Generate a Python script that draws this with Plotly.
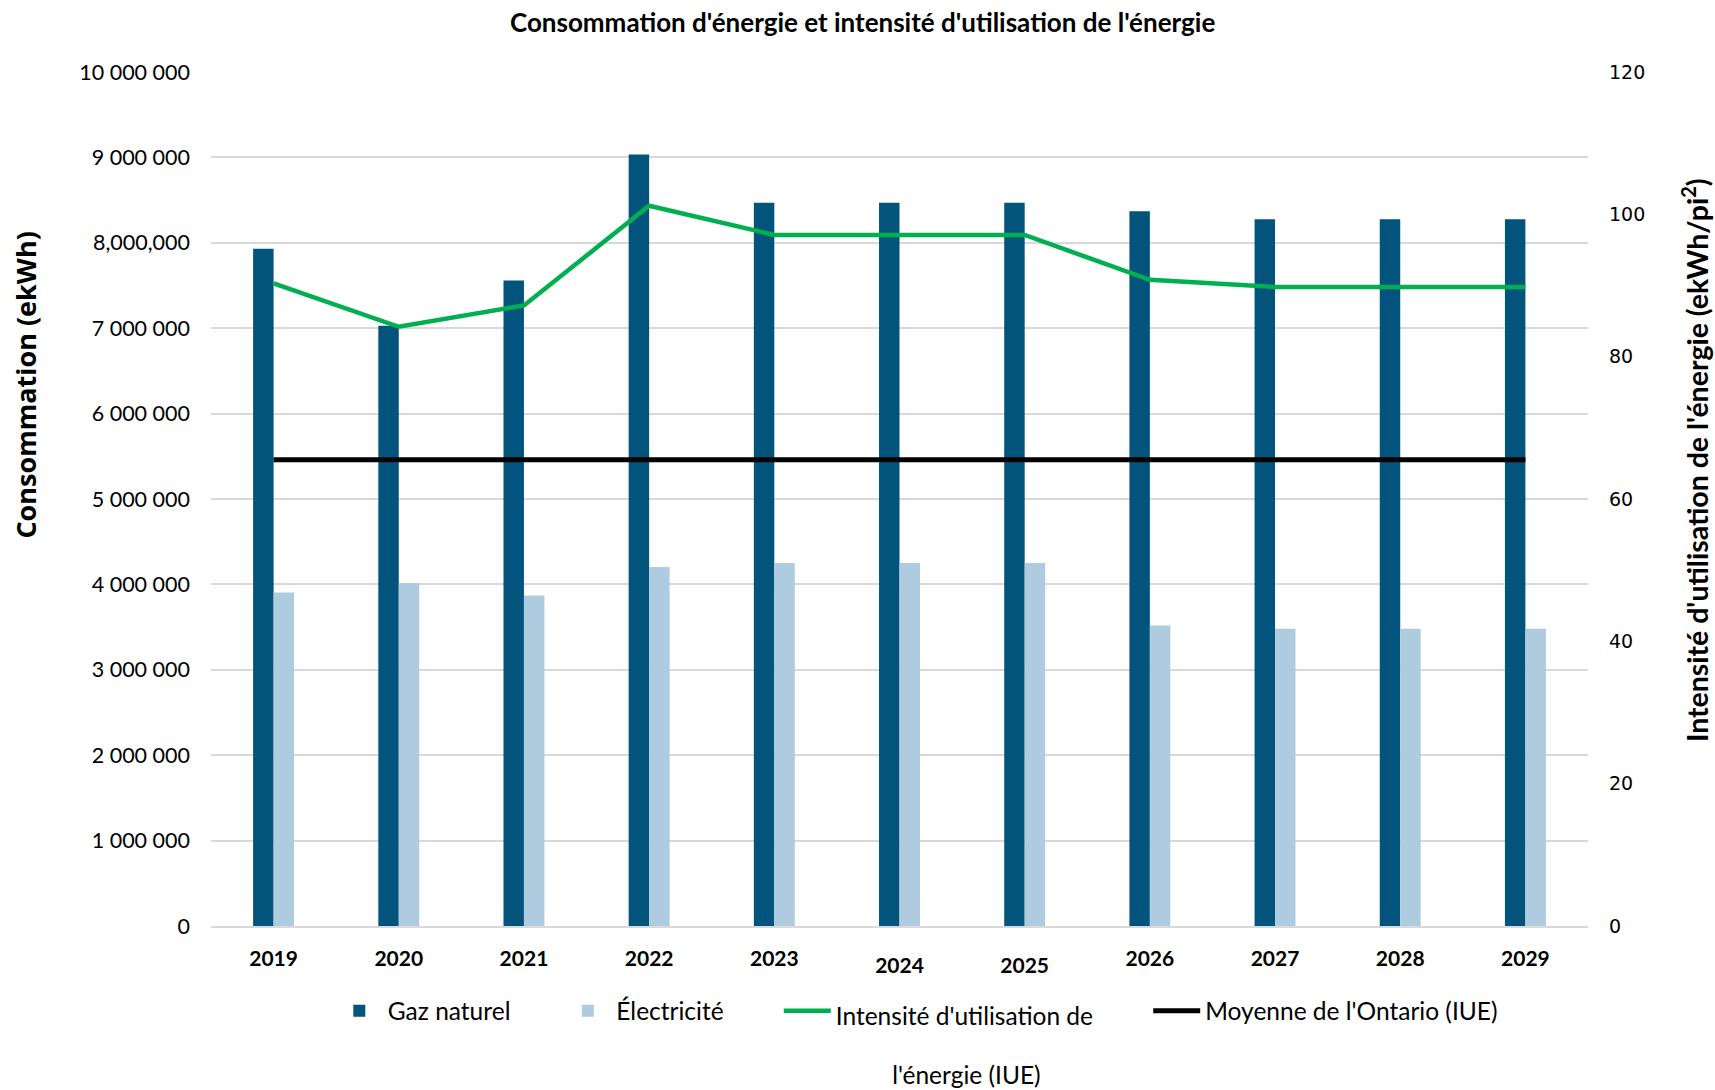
import plotly.graph_objects as go

# Years shown on the category axis
years = ["2019", "2020", "2021", "2022", "2023", "2024", "2025", "2026", "2027", "2028", "2029"]
year_labels = ["2019", "2020", "2021", "2022", "2023",
               "<span style='baseline-shift:-7px'>2024</span>",
               "<span style='baseline-shift:-7px'>2025</span>",
               "2026", "2027", "2028", "2029"]

# Consumption (ekWh)
gaz_naturel = [7930000, 7030000, 7560000, 9035000, 8470000, 8470000, 8470000, 8370000, 8275000, 8275000, 8275000]
electricite = [3905000, 4015000, 3870000, 4205000, 4250000, 4250000, 4250000, 3520000, 3480000, 3480000, 3480000]

# Energy use intensity (ekWh/pi²)
iue = [90.3, 84.2, 87.2, 101.2, 97.1, 97.1, 97.1, 90.8, 89.8, 89.8, 89.8]
moyenne_ontario = [65.5] * len(years)

# Left axis ticks
left_tickvals = [0, 1000000, 2000000, 3000000, 4000000, 5000000, 6000000, 7000000, 8000000, 9000000, 10000000]
left_ticktext = ["0", "1 000 000", "2 000 000", "3 000 000", "4 000 000", "5 000 000",
                 "6 000 000", "7 000 000", "8,000,000", "9 000 000", "10 000 000"]
right_tickvals = [0, 20, 40, 60, 80, 100, 120]

DARK = "#02547D"
LIGHT = "#AECBE0"
GREEN = "#00B050"
GRID = "#D9D9D9"
SANS = "Lato, 'Open Sans', sans-serif"
NB = "\u00a0"

fig = go.Figure()
fig.add_trace(go.Bar(x=years, y=gaz_naturel, name="Gaz naturel" + NB * 7,
                     marker=dict(color=DARK, line=dict(width=0)), yaxis="y"))
fig.add_trace(go.Bar(x=years, y=electricite, name="Électricité" + NB * 8,
                     marker=dict(color=LIGHT, line=dict(width=0)), yaxis="y"))
fig.add_trace(go.Scatter(x=years, y=iue, mode="lines",
                         name="<span style='baseline-shift:-5px'>Intensité d'utilisation de</span>"
                              + NB * 8 + "<br><br>" + NB * 9 + "l'énergie (IUE)",
                         line=dict(color=GREEN, width=4.5), yaxis="y2"))
fig.add_trace(go.Scatter(x=years, y=moyenne_ontario, mode="lines",
                         name="Moyenne de l'Ontario (IUE)",
                         line=dict(color="#000000", width=5), yaxis="y2"))

fig.update_layout(
    width=1715, height=1090,
    paper_bgcolor="white", plot_bgcolor="white",
    margin=dict(l=211, r=127, t=72, b=164, autoexpand=False),
    barmode="group", bargap=0.673, bargroupgap=0,
    font=dict(family=SANS, color="#000000"),
    title=dict(text="<b>Consommation d'énergie et intensité d'utilisation de l'énergie</b>",
               x=0.503, xref="container", xanchor="center",
               y=1 - 23 / 1090, yref="container", yanchor="middle",
               font=dict(family=SANS, size=26, color="#000000")),
    xaxis=dict(type="category", tickmode="array", tickvals=years, ticktext=year_labels,
               tickfont=dict(family=SANS, size=21, color="#000000", weight="bold"),
               showgrid=False, showline=True, linecolor=GRID, linewidth=2,
               ticks="", ticklabelstandoff=13),
    yaxis=dict(range=[0, 10000000], tickmode="array", tickvals=left_tickvals, ticktext=left_ticktext,
               tickfont=dict(family=SANS, size=21.5, color="#000000"),
               showgrid=True, gridcolor=GRID, gridwidth=2, zeroline=False, showline=False,
               ticks="", ticklabelstandoff=20),
    yaxis2=dict(range=[0, 120], tickmode="array", tickvals=right_tickvals,
                overlaying="y", side="right", anchor="x",
                tickfont=dict(family="'DejaVu Sans', sans-serif", size=19, color="#000000"),
                showgrid=False, zeroline=False, showline=False, ticks="", ticklabelstandoff=20),
    legend=dict(orientation="h", x=0.087, xanchor="left", y=-0.073, yanchor="top",
                valign="top", itemwidth=47,
                font=dict(family=SANS, size=24.5, color="#000000"),
                bgcolor="rgba(0,0,0,0)", traceorder="normal"),
    showlegend=True,
    annotations=[
        dict(text="<b>Consommation (ekWh)</b>", textangle=-90,
             xref="paper", yref="paper", x=(26 - 211) / 1377, y=(926.4 - 386) / 854,
             xanchor="center", yanchor="middle", showarrow=False,
             font=dict(family="'Open Sans', sans-serif", size=27, color="#000000")),
        dict(text="<b>Intensité d'utilisation de l'énergie (ekWh/pi<sup>2</sup>)</b>", textangle=-90,
             xref="paper", yref="paper", x=(1695 - 211) / 1377, y=(926.4 - 460.5) / 854,
             xanchor="center", yanchor="middle", showarrow=False,
             font=dict(family=SANS, size=28.5, color="#000000")),
    ],
)

fig.write_html("out.html")
